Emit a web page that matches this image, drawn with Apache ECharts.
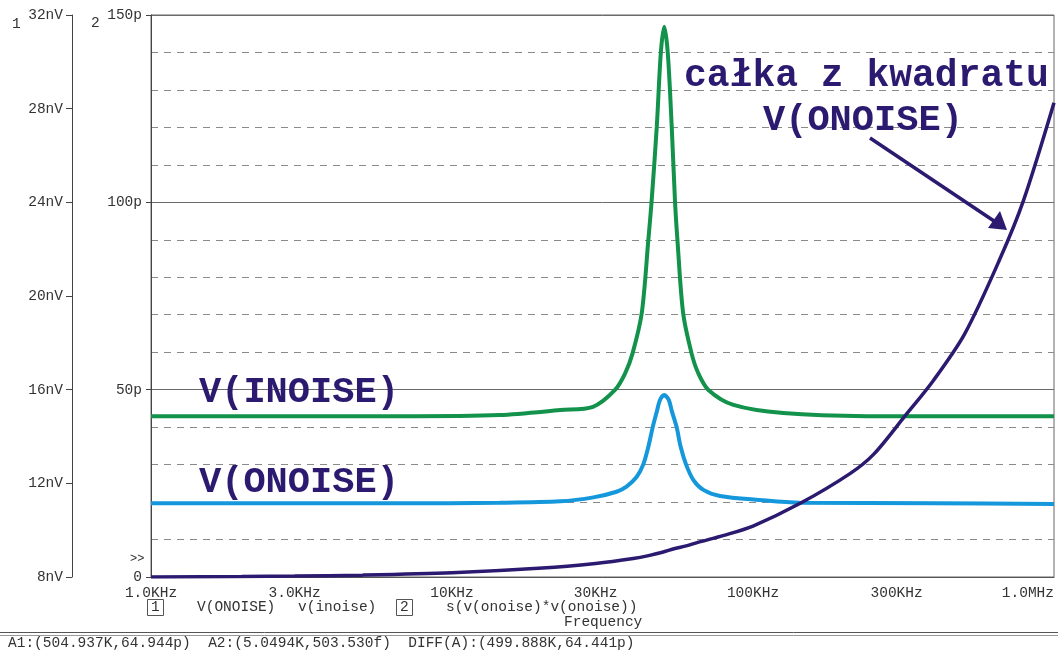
<!DOCTYPE html>
<html>
<head>
<meta charset="utf-8">
<script src="https://cdn.jsdelivr.net/npm/echarts@6/dist/echarts.min.js"></script>
<style>
  html, body { margin: 0; padding: 0; background: #ffffff; }
  #chart { width: 1058px; height: 650px; }
</style>
</head>
<body>
<div id="chart"></div>
<script>
// Frequency axis ticks (Hz) and their labels
const xTickValues = [1000, 3000, 10000, 30000, 100000, 300000, 1000000];
const xTickLabels = ['1.0KHz', '3.0KHz', '10KHz', '30KHz', '100KHz', '300KHz', '1.0MHz'];

// v(inoise), nV
const inoiseFreq = [1000, 6700, 14400, 22900, 29400, 34800, 37600, 39800, 42700, 44900, 46000, 47900, 49400, 50700,
                    52100, 53700, 55100, 56100, 58600, 62500, 65800, 71100, 86100, 126000, 239000, 1000000];
const inoise = [14.87, 14.87, 14.92, 15.13, 15.27, 15.99, 16.70, 17.55, 19.27, 22.39, 23.98, 27.23, 30.38, 31.50,
                30.38, 27.23, 23.98, 22.39, 19.27, 17.55, 16.70, 15.99, 15.35, 15.00, 14.87, 14.87];

// V(ONOISE), nV
const onoiseFreq = [1000, 6700, 14400, 22900, 29500, 35200, 38000, 41100, 43200, 44900, 46400, 47900, 49100, 50700,
                    52500, 53800, 55800, 57500, 59900, 63400, 68400, 77700, 105000, 143000, 396000, 1000000];
const onoise = [11.15, 11.15, 11.17, 11.23, 11.40, 11.64, 11.86, 12.28, 12.81, 13.56, 14.38, 15.06, 15.56, 15.77,
                15.56, 15.06, 14.38, 13.56, 12.81, 12.14, 11.72, 11.46, 11.29, 11.17, 11.15, 11.12];

// s(v(onoise)*v(onoise)), p
const integralFreq = [1000, 2000, 3000, 5050, 10000, 20000, 30000, 40000, 45000, 50000, 55000, 60000, 66000, 80000,
                      100000, 143000, 210000, 252000, 320000, 397000, 505000, 662000, 791000, 1000000];
const integral = [0, 0.12, 0.25, 0.50, 1.12, 2.37, 3.62, 4.93, 5.70, 6.60, 7.60, 8.30, 9.30, 11.1,
                  13.6, 19.6, 27.6, 32.8, 43.0, 52.4, 64.9, 85.0, 100.4, 126.6];

const FONT = '"Liberation Mono", "DejaVu Sans Mono", monospace';
const TXT = '#333333';
const NAVY = '#2b1a70';
const GREEN = '#12924a';
const BLUE = '#1497db';

const pairs = (xs, ys) => xs.map((x, i) => [x, ys[i]]);

const chart = echarts.init(document.getElementById('chart'), null, { renderer: 'canvas' });

chart.setOption({
  backgroundColor: '#ffffff',
  animation: false,
  grid: {
    left: 151, right: 4, top: 15, bottom: 73,
    show: true, borderColor: '#666666', borderWidth: 1, backgroundColor: 'transparent'
  },
  xAxis: {
    type: 'log', logBase: 10, min: 1000, max: 1000000,
    axisLine: { show: true, lineStyle: { color: '#555555', width: 1 } },
    axisTick: { show: false },
    splitLine: { show: false },
    minorSplitLine: { show: false },
    axisLabel: {
      customValues: xTickValues,
      formatter: v => {
        const i = xTickValues.findIndex(t => Math.abs(t - v) / t < 1e-6);
        return i >= 0 ? xTickLabels[i] : '';
      },
      fontFamily: FONT, fontSize: 14.5, color: TXT, margin: 9,
      alignMaxLabel: 'right'
    }
  },
  yAxis: [
    {
      type: 'value', min: 8, max: 32, interval: 4,
      position: 'left', offset: 79,
      axisLine: { show: true, lineStyle: { color: '#444444', width: 1 } },
      axisTick: { show: true, length: 6, lineStyle: { color: '#444444' } },
      splitLine: { show: false },
      axisLabel: { formatter: v => v + 'nV', fontFamily: FONT, fontSize: 14.5, color: TXT, margin: 9 }
    },
    {
      type: 'value', min: 0, max: 150, interval: 50,
      position: 'left', offset: 0,
      axisLine: { show: true, lineStyle: { color: '#444444', width: 1 } },
      axisTick: { show: true, length: 5, lineStyle: { color: '#444444' } },
      splitLine: { show: true, lineStyle: { color: '#6a6a6a', width: 1 } },
      minorTick: { show: false, splitNumber: 5 },
      minorSplitLine: { show: true, lineStyle: { color: '#8a8a8a', width: 1, type: [7, 6] } },
      axisLabel: { formatter: v => (v === 0 ? '0' : v + 'p'), fontFamily: FONT, fontSize: 14.5, color: TXT, margin: 9 }
    }
  ],
  series: [
    {
      name: 'v(inoise)', type: 'line', yAxisIndex: 0,
      data: pairs(inoiseFreq, inoise),
      showSymbol: false, smooth: 0.3,
      lineStyle: { color: GREEN, width: 4 }, z: 3
    },
    {
      name: 'V(ONOISE)', type: 'line', yAxisIndex: 0,
      data: pairs(onoiseFreq, onoise),
      showSymbol: false, smooth: 0.3,
      lineStyle: { color: BLUE, width: 4 }, z: 3
    },
    {
      name: 's(v(onoise)*v(onoise))', type: 'line', yAxisIndex: 1,
      data: pairs(integralFreq, integral),
      showSymbol: false, smooth: 0.3,
      lineStyle: { color: NAVY, width: 3.5 }, z: 4
    }
  ],
  graphic: [
    // axis numbers
    { type: 'text', left: 12, top: 17, style: { text: '1', font: '14.5px ' + FONT, fill: TXT } },
    { type: 'text', left: 91, top: 16, style: { text: '2', font: '14.5px ' + FONT, fill: TXT } },
    { type: 'text', left: 130, top: 553, style: { text: '>>', font: '12px ' + FONT, fill: TXT } },

    // annotations
    { type: 'text', left: 199, top: 374, z: 10, style: { text: 'V(INOISE)', font: 'bold 37px ' + FONT, fill: NAVY } },
    { type: 'text', left: 199, top: 464, z: 10, style: { text: 'V(ONOISE)', font: 'bold 37px ' + FONT, fill: NAVY } },
    { type: 'text', left: 684, top: 57, z: 10, style: { text: 'całka z kwadratu', font: 'bold 38px ' + FONT, fill: NAVY } },
    { type: 'text', left: 763, top: 102, z: 10, style: { text: 'V(ONOISE)', font: 'bold 37px ' + FONT, fill: NAVY } },
    { type: 'line', z: 10, shape: { x1: 870, y1: 138, x2: 994, y2: 221 }, style: { stroke: NAVY, lineWidth: 3.5 } },
    { type: 'polygon', z: 10, shape: { points: [[1007, 230], [988, 228], [1000, 211]] }, style: { fill: NAVY } },

    // trace legend row
    { type: 'rect', shape: { x: 147.5, y: 599.5, width: 16, height: 16 }, style: { stroke: '#555555', fill: 'none', lineWidth: 1 } },
    { type: 'text', left: 151, top: 600, style: { text: '1', font: '14.5px ' + FONT, fill: TXT } },
    { type: 'text', left: 197, top: 600, style: { text: 'V(ONOISE)', font: '14.5px ' + FONT, fill: TXT } },
    { type: 'text', left: 298, top: 600, style: { text: 'v(inoise)', font: '14.5px ' + FONT, fill: TXT } },
    { type: 'rect', shape: { x: 396.5, y: 599.5, width: 16, height: 16 }, style: { stroke: '#555555', fill: 'none', lineWidth: 1 } },
    { type: 'text', left: 400, top: 600, style: { text: '2', font: '14.5px ' + FONT, fill: TXT } },
    { type: 'text', left: 446, top: 600, style: { text: 's(v(onoise)*v(onoise))', font: '14.5px ' + FONT, fill: TXT } },
    { type: 'text', left: 564, top: 615, style: { text: 'Frequency', font: '14.5px ' + FONT, fill: TXT } },

    // cursor readout bar
    { type: 'line', shape: { x1: 0, y1: 632.5, x2: 1058, y2: 632.5 }, style: { stroke: '#555555', lineWidth: 1 } },
    { type: 'line', shape: { x1: 0, y1: 635.5, x2: 1058, y2: 635.5 }, style: { stroke: '#999999', lineWidth: 1 } },
    { type: 'text', left: 8, top: 636, style: { text: 'A1:(504.937K,64.944p)  A2:(5.0494K,503.530f)  DIFF(A):(499.888K,64.441p)', font: '14.5px ' + FONT, fill: TXT } }
  ]
});
</script>
</body>
</html>
